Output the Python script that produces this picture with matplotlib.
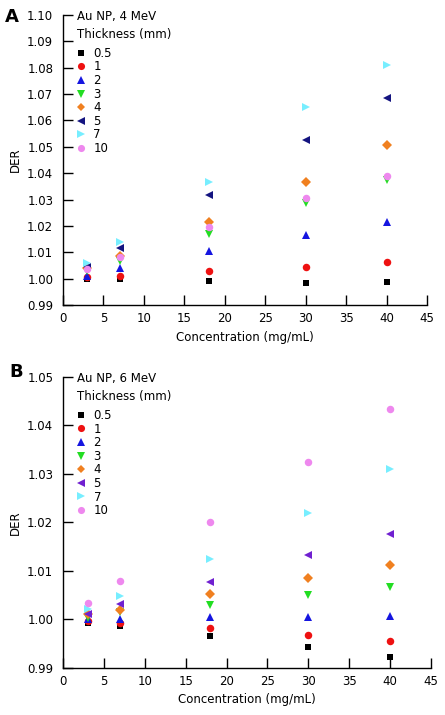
import matplotlib
matplotlib.use("Agg")
import matplotlib.pyplot as plt

plt.rcParams['font.family'] = ['DejaVu Sans']

conc = [3, 7, 18, 30, 40]
thickness = ["0.5", "1", "2", "3", "4", "5", "7", "10"]

# Panel A: Au NP, 4 MeV
der_a = {
    "0.5": [1.0000, 0.9999, 0.9990, 0.9985, 0.9989],
    "1":   [1.0005, 1.0009, 1.0028, 1.0043, 1.0064],
    "2":   [1.0011, 1.0040, 1.0104, 1.0164, 1.0216],
    "3":   [1.0030, 1.0066, 1.0171, 1.0285, 1.0375],
    "4":   [1.0040, 1.0085, 1.0215, 1.0365, 1.0506],
    "5":   [1.0045, 1.0116, 1.0316, 1.0525, 1.0684],
    "7":   [1.0060, 1.0140, 1.0366, 1.0651, 1.0812],
    "10":  [1.0035, 1.0081, 1.0194, 1.0306, 1.0388],
}
# Panel B: Au NP, 6 MeV
der_b = {
    "0.5": [0.9993, 0.9987, 0.9966, 0.9944, 0.9923],
    "1":   [0.9996, 0.9992, 0.9982, 0.9968, 0.9955],
    "2":   [1.0001, 1.0002, 1.0005, 1.0006, 1.0008],
    "3":   [1.0004, 1.0015, 1.0030, 1.0051, 1.0066],
    "4":   [1.0011, 1.0020, 1.0053, 1.0085, 1.0113],
    "5":   [1.0011, 1.0031, 1.0077, 1.0134, 1.0176],
    "7":   [1.0022, 1.0049, 1.0125, 1.0220, 1.0310],
    "10":  [1.0035, 1.0079, 1.0200, 1.0325, 1.0433],
}

markers = ["s", "o", "^", "v", "D", "<", ">", "o"]
msizes = [4.8, 5.4, 5.6, 5.6, 4.6, 5.6, 5.6, 5.4]
colors_a = ["#000000", "#ee1111", "#1515e0", "#22dd22", "#f08020", "#141480", "#77eeff", "#ee88ee"]
colors_b = ["#000000", "#ee1111", "#1515e0", "#22dd22", "#f08020", "#7020d0", "#77eeff", "#ee88ee"]

fig = plt.figure(figsize=(4.45, 7.15), dpi=100)

W, H = 445, 715
def pos(l, r, t, b):
    return [l / W, 1 - b / H, (r - l) / W, (b - t) / H]

panels = [
    (pos(63, 427, 15, 305), der_a, colors_a, "Au NP, 4 MeV", (0.99, 1.10),
     [0.99 + 0.01 * i for i in range(12)], "A", (5, 17)),
    (pos(63, 431, 377, 668), der_b, colors_b, "Au NP, 6 MeV", (0.99, 1.05),
     [0.99 + 0.01 * i for i in range(7)], "B", (9, 372)),
]

for rect, data, cols, title, ylim, yticks, letter, lpos in panels:
    ax = fig.add_axes(rect)
    handles = []
    for i, t in enumerate(thickness):
        h, = ax.plot(conc, data[t], linestyle="none", marker=markers[i],
                     markersize=msizes[i], color=cols[i], markeredgewidth=0,
                     label=t, clip_on=False)
        handles.append(h)
    ax.set_xlim(0, 45)
    ax.set_ylim(*ylim)
    ax.set_xticks(range(0, 50, 5))
    ax.set_yticks(yticks)
    ax.set_yticklabels([f"{v:.2f}" for v in yticks])
    for s in ["top", "right"]:
        ax.spines[s].set_visible(False)
    for s in ["left", "bottom"]:
        ax.spines[s].set_linewidth(1.0)
    ax.tick_params(axis="both", direction="in", length=7, width=1.0,
                   labelsize=8.5, colors="black")
    ax.tick_params(axis="y", pad=7)
    ax.tick_params(axis="x", pad=5)
    ax.set_xlabel("Concentration (mg/mL)", fontsize=8.5, labelpad=4)
    ax.set_ylabel("DER", fontsize=8.5, labelpad=4)
    ax.text(0.038, 0.995, title, transform=ax.transAxes, fontsize=8.5,
            ha="left", va="center")
    ax.text(0.038, 0.932, "Thickness (mm)", transform=ax.transAxes, fontsize=8.5,
            ha="left", va="center")
    leg = ax.legend(handles=handles, loc="upper left",
                    bbox_to_anchor=(0.035, 0.89), frameon=False,
                    fontsize=8.5, handlelength=0.9, handletextpad=0.6,
                    labelspacing=0.05, borderpad=0.0, borderaxespad=0.0,
                    markerscale=0.95)
    fig.text(lpos[0] / W, 1 - lpos[1] / H, letter,
             fontsize=13, fontweight="bold", ha="left", va="center")

fig.savefig("out.png", dpi=100)
